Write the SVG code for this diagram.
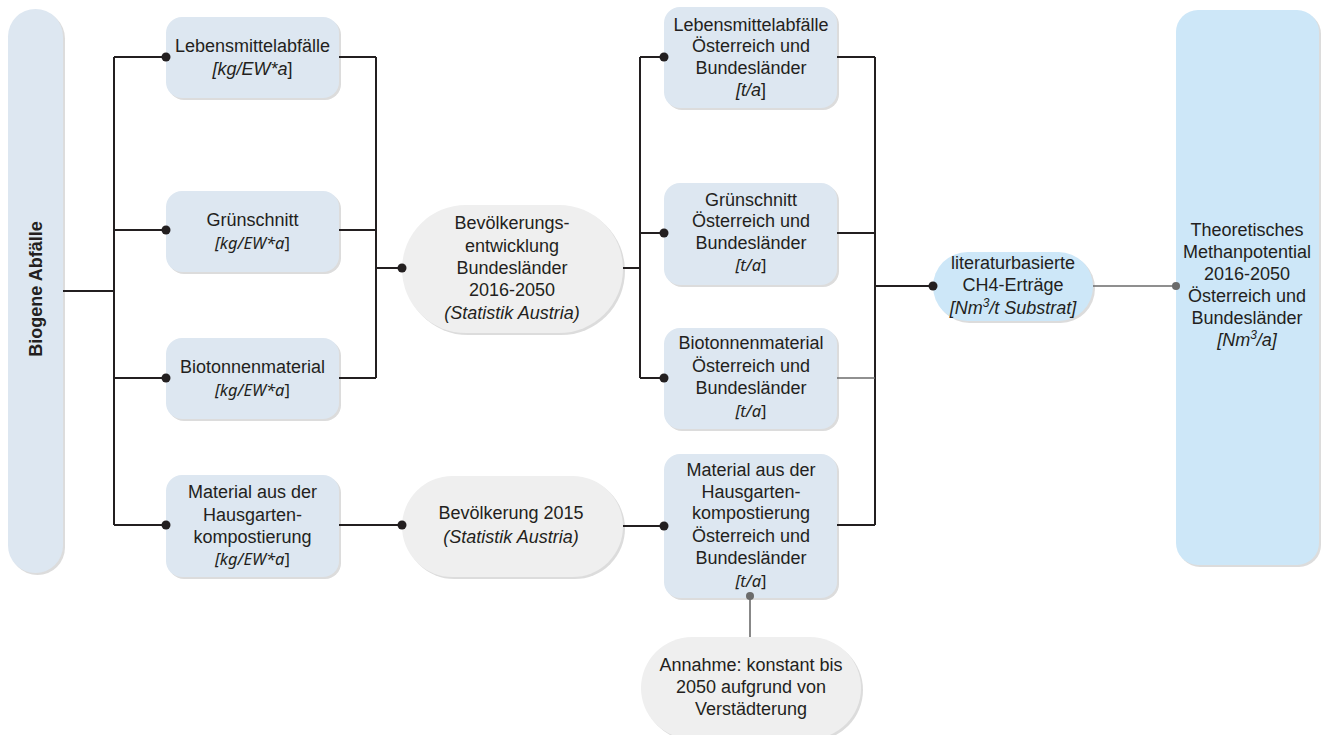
<svg xmlns="http://www.w3.org/2000/svg" width="1325" height="735" viewBox="0 0 1325 735">
<style>
text{font-family:"Liberation Sans",Arial,sans-serif;font-size:18px;fill:#231f20;text-anchor:middle}
.i{font-style:italic}
.c{font-family:"Noto Sans","Open Sans",sans-serif;font-style:italic;font-size:16.5px}
.u{font-style:normal}
.box{fill:#dde7f1}
.gray{fill:#efefef}
.sky{fill:#cde7f8}
.sh{fill:#dcdcdc}
.ln{stroke:#231f20;stroke-width:2;fill:none}
.lg{stroke:#6b6b6b;stroke-width:1.6;fill:none}
.dot{fill:#231f20}
.dg{fill:#6b6b6b}
</style>
<g id="biogene">
<rect class="sh" x="10" y="11" width="55" height="564" rx="27.5"/>
<rect class="box" x="8" y="9" width="55" height="564" rx="27.5"/>
<text transform="translate(41.5 289) rotate(-90)" font-weight="bold">Biogene Abfälle</text>
</g>
<g id="lm1">
<rect class="sh" x="168" y="19" width="173" height="81" rx="16"/>
<rect class="box" x="166" y="17" width="173" height="81" rx="16"/>
<text x="252.5" y="51.5">Lebensmittelabfälle</text>
<text x="252.5" y="75" class="i">[kg/EW*a<tspan class="u">]</tspan></text>
</g>
<g id="gs1">
<rect class="sh" x="168" y="193" width="173" height="81" rx="16"/>
<rect class="box" x="166" y="191" width="173" height="81" rx="16"/>
<text x="252.5" y="226">Grünschnitt</text>
<text x="252.5" y="249" class="c">[kg/EW*a<tspan class="u">]</tspan></text>
</g>
<g id="bt1">
<rect class="sh" x="168" y="340" width="173" height="81" rx="16"/>
<rect class="box" x="166" y="338" width="173" height="81" rx="16"/>
<text x="252.5" y="373">Biotonnenmaterial</text>
<text x="252.5" y="396" class="c">[kg/EW*a<tspan class="u">]</tspan></text>
</g>
<g id="hg1">
<rect class="sh" x="168" y="477" width="173" height="102" rx="16"/>
<rect class="box" x="166" y="475" width="173" height="102" rx="16"/>
<text x="252.5" y="498">Material aus der</text>
<text x="252.5" y="521">Hausgarten-</text>
<text x="252.5" y="543">kompostierung</text>
<text x="252.5" y="565" class="c">[kg/EW*a<tspan class="u">]</tspan></text>
</g>
<g id="bev">
<rect class="sh" x="404" y="207" width="221" height="128" rx="64"/>
<rect class="gray" x="402" y="205" width="221" height="128" rx="64"/>
<text x="512" y="229">Bevölkerungs-</text>
<text x="512" y="252">entwicklung</text>
<text x="512" y="274">Bundesländer</text>
<text x="512" y="296">2016-2050</text>
<text x="512" y="319" class="i">(Statistik Austria)</text>
</g>
<g id="bev2015">
<rect class="sh" x="404" y="478" width="221" height="101" rx="50.5"/>
<rect class="gray" x="402" y="476" width="221" height="101" rx="50.5"/>
<text x="511" y="519">Bevölkerung 2015</text>
<text x="511" y="543" class="i">(Statistik Austria)</text>
</g>
<g id="lm2">
<rect class="sh" x="666" y="9" width="173" height="101" rx="16"/>
<rect class="box" x="664" y="7" width="173" height="101" rx="16"/>
<text x="751" y="31">Lebensmittelabfälle</text>
<text x="751" y="52">Österreich und</text>
<text x="751" y="74">Bundesländer</text>
<text x="751" y="96" class="i">[t/a<tspan class="u">]</tspan></text>
</g>
<g id="gs2">
<rect class="sh" x="666" y="185" width="173" height="102" rx="16"/>
<rect class="box" x="664" y="183" width="173" height="102" rx="16"/>
<text x="751" y="206">Grünschnitt</text>
<text x="751" y="227">Österreich und</text>
<text x="751" y="249">Bundesländer</text>
<text x="751" y="271" class="c">[t/a<tspan class="u">]</tspan></text>
</g>
<g id="bt2">
<rect class="sh" x="666" y="330" width="173" height="101" rx="16"/>
<rect class="box" x="664" y="328" width="173" height="101" rx="16"/>
<text x="751" y="349">Biotonnenmaterial</text>
<text x="751" y="372">Österreich und</text>
<text x="751" y="394">Bundesländer</text>
<text x="751" y="417" class="c">[t/a<tspan class="u">]</tspan></text>
</g>
<g id="hg2">
<rect class="sh" x="666" y="456" width="173" height="144" rx="16"/>
<rect class="box" x="664" y="454" width="173" height="144" rx="16"/>
<text x="751" y="476">Material aus der</text>
<text x="751" y="498">Hausgarten-</text>
<text x="751" y="519">kompostierung</text>
<text x="751" y="542">Österreich und</text>
<text x="751" y="564">Bundesländer</text>
<text x="751" y="587" class="c">[t/a<tspan class="u">]</tspan></text>
</g>
<g id="annahme">
<rect class="sh" x="643" y="639" width="220" height="102" rx="51"/>
<rect class="gray" x="641" y="637" width="220" height="102" rx="51"/>
<text x="751" y="671">Annahme: konstant bis</text>
<text x="751" y="693">2050 aufgrund von</text>
<text x="751" y="715">Verstädterung</text>
</g>
<g id="ch4">
<rect class="sh" x="935" y="254" width="160" height="69" rx="34.5"/>
<rect class="sky" x="933" y="252" width="160" height="69" rx="34.5"/>
<text x="1013" y="269">literaturbasierte</text>
<text x="1013" y="291">CH4-Erträge</text>
<text x="1013" y="314" class="i">[Nm<tspan dy="-7" font-size="12">3</tspan><tspan dy="7">/t Substrat]</tspan></text>
</g>
<g id="theo">
<rect class="sh" x="1178" y="12" width="143" height="555" rx="22"/>
<rect class="sky" x="1176" y="10" width="143" height="555" rx="22"/>
<text x="1247" y="236">Theoretisches</text>
<text x="1247" y="258">Methanpotential</text>
<text x="1247" y="280">2016-2050</text>
<text x="1247" y="302">Österreich und</text>
<text x="1247" y="324">Bundesländer</text>
<text x="1247" y="346" class="i">[Nm<tspan dy="-7" font-size="12">3</tspan><tspan dy="7">/a]</tspan></text>
</g>
<g id="connectors">
<path class="ln" d="M63 291H114M114 57V525M114 57H166M114 230H166M114 378H166M114 525H166"/>
<path class="ln" d="M339 57H376M339 230H376M339 378H376M376 57V378M376 268H402"/>
<path class="ln" d="M339 525H402"/>
<path class="ln" d="M623 268H640M640 57V378M640 57H664M640 233H664M640 378H664"/>
<path class="ln" d="M623 526H664"/>
<path class="ln" d="M837 57H875M837 233H875M875 57V525M837 525H875M875 286H933"/>
<path class="lg" d="M837 378H875"/>
<path class="lg" d="M1093 286H1176M750 596V637"/>
<circle class="dot" cx="166" cy="57" r="4.5"/>
<circle class="dot" cx="166" cy="230" r="4.5"/>
<circle class="dot" cx="166" cy="378" r="4.5"/>
<circle class="dot" cx="166" cy="525" r="4.5"/>
<circle class="dot" cx="402" cy="268" r="4.5"/>
<circle class="dot" cx="402" cy="525" r="4.5"/>
<circle class="dot" cx="664" cy="57" r="4.5"/>
<circle class="dot" cx="664" cy="233" r="4.5"/>
<circle class="dot" cx="664" cy="378" r="4.5"/>
<circle class="dot" cx="664" cy="526" r="4.5"/>
<circle class="dot" cx="933" cy="286" r="4.5"/>
<circle class="dg" cx="1176" cy="286" r="4"/>
<circle class="dg" cx="750" cy="596" r="4"/>
</g>
</svg>
